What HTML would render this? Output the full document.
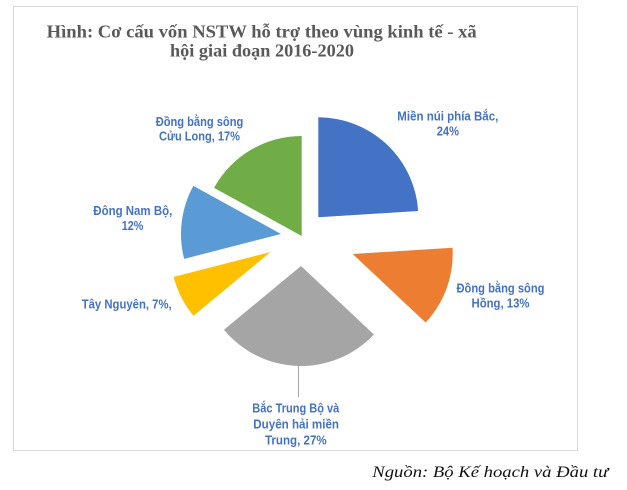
<!DOCTYPE html>
<html>
<head>
<meta charset="utf-8">
<style>
html,body{margin:0;padding:0;background:#fff;}
svg{display:block;}
.lbl{font-family:"Liberation Sans",sans-serif;font-weight:bold;font-size:13px;fill:#4472C4;}
.ttl{font-family:"Liberation Serif",serif;font-weight:bold;font-size:18px;fill:#595959;}
.src{font-family:"Liberation Serif",serif;font-style:italic;font-size:16px;fill:#111;}
</style>
</head>
<body>
<svg width="627" height="490" viewBox="0 0 627 490" xmlns="http://www.w3.org/2000/svg">
  <rect x="0" y="0" width="627" height="490" fill="#fff"/>
  <rect x="13.5" y="6.5" width="564" height="444" fill="#fff" stroke="#d9d9d9" stroke-width="1"/>

  <text class="ttl" x="46.7" y="37.5" textLength="430" lengthAdjust="spacingAndGlyphs">Hình: Cơ cấu vốn NSTW hỗ trợ theo vùng kinh tế - xã</text>
  <text class="ttl" x="170" y="56.7" textLength="184" lengthAdjust="spacingAndGlyphs">hội giai đoạn 2016-2020</text>

  <!-- slices -->
  <path d="M318.3,217.3 L318.3,117.3 A100,100 0 0 1 418.1,211.0 Z" fill="#4472C4"/>
  <path d="M352.7,254 L452.5,247.7 A100,100 0 0 1 425.6,322.45 Z" fill="#ED7D31"/>
  <path d="M301,266 L373.9,334.45 A100,100 0 0 1 223.95,329.74 Z" fill="#A5A5A5"/>
  <path d="M270.5,252 L193.45,315.74 A100,100 0 0 1 173.64,276.87 Z" fill="#FFC000"/>
  <path d="M281,234 L184.14,258.87 A100,100 0 0 1 193.37,185.82 Z" fill="#5B9BD5"/>
  <path d="M301.7,236 L214.07,187.82 A100,100 0 0 1 301.7,136 Z" fill="#70AD47"/>

  <!-- leader line -->
  <line x1="298.5" y1="366" x2="298.5" y2="397" stroke="#A6A6A6" stroke-width="1"/>

  <!-- labels -->
  <text class="lbl" x="397.3" y="120.7" textLength="101" lengthAdjust="spacingAndGlyphs">Miền núi phía Bắc,</text>
  <text class="lbl" x="436.7" y="135.7" textLength="22.3" lengthAdjust="spacingAndGlyphs">24%</text>

  <text class="lbl" x="155.7" y="126" textLength="87.6" lengthAdjust="spacingAndGlyphs">Đồng bằng sông</text>
  <text class="lbl" x="159" y="140.7" textLength="81" lengthAdjust="spacingAndGlyphs">Cửu Long, 17%</text>

  <text class="lbl" x="93.3" y="215" textLength="79" lengthAdjust="spacingAndGlyphs">Đông Nam Bộ,</text>
  <text class="lbl" x="121.7" y="230" textLength="21.6" lengthAdjust="spacingAndGlyphs">12%</text>

  <text class="lbl" x="81.7" y="308.3" textLength="90" lengthAdjust="spacingAndGlyphs">Tây Nguyên, 7%,</text>

  <text class="lbl" x="456.5" y="292.7" textLength="88" lengthAdjust="spacingAndGlyphs">Đồng bằng sông</text>
  <text class="lbl" x="471.5" y="307.7" textLength="58" lengthAdjust="spacingAndGlyphs">Hồng, 13%</text>

  <text class="lbl" x="252.3" y="412.7" textLength="87" lengthAdjust="spacingAndGlyphs">Bắc Trung Bộ và</text>
  <text class="lbl" x="253.3" y="428.3" textLength="85.7" lengthAdjust="spacingAndGlyphs">Duyên hải miền</text>
  <text class="lbl" x="265" y="444.3" textLength="61.7" lengthAdjust="spacingAndGlyphs">Trung, 27%</text>

  <text class="src" x="372.3" y="477" textLength="236" lengthAdjust="spacingAndGlyphs">Nguồn: Bộ Kế hoạch và Đầu tư</text>
</svg>
</body>
</html>
